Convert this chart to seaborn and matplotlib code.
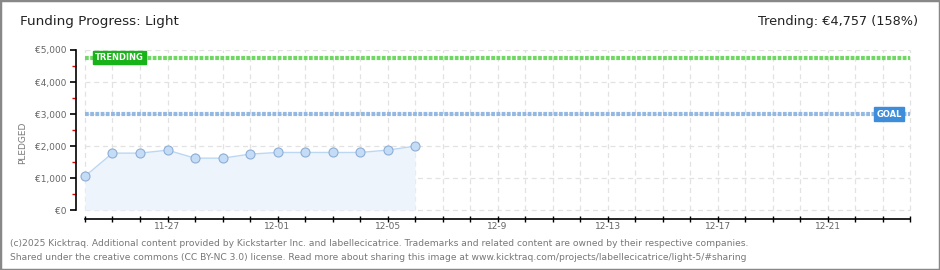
import matplotlib
matplotlib.use("Agg")
import matplotlib.pyplot as plt
import matplotlib.dates as mdates
from matplotlib.ticker import FixedLocator
import seaborn as sns
import pandas as pd

# ---- data ----
dates = ["2025-11-24", "2025-11-25", "2025-11-26", "2025-11-27", "2025-11-28",
         "2025-11-29", "2025-11-30", "2025-12-01", "2025-12-02", "2025-12-03",
         "2025-12-04", "2025-12-05", "2025-12-06"]
pledged = [1056, 1777, 1777, 1871, 1620, 1620, 1746, 1798, 1798, 1798, 1798, 1871, 1996]
goal = 3000
trending = 4757
axis_start = "2025-11-24"
axis_end = "2025-12-24"
tick_label_dates = ["2025-11-27", "2025-12-01", "2025-12-05", "2025-12-09",
                    "2025-12-13", "2025-12-17", "2025-12-21"]
tick_labels = ["11-27", "12-01", "12-05", "12-9", "12-13", "12-17", "12-21"]
y_ticks = [0, 1000, 2000, 3000, 4000, 5000]
y_minor = [500, 1500, 2500, 3500, 4500]
y_tick_labels = ["€0", "€1,000", "€2,000", "€3,000", "€4,000", "€5,000"]
title = "Funding Progress: Light"
trend_text = "Trending: €4,757 (158%)"
footer1 = "(c)2025 Kicktraq. Additional content provided by Kickstarter Inc. and labellecicatrice. Trademarks and related content are owned by their respective companies."
footer2 = "Shared under the creative commons (CC BY-NC 3.0) license. Read more about sharing this image at www.kicktraq.com/projects/labellecicatrice/light-5/#sharing"

df = pd.DataFrame({"date": pd.to_datetime(dates), "pledged": pledged})
start = pd.Timestamp(axis_start)
end = pd.Timestamp(axis_end)

sns.set_style("white")
plt.rcParams["font.family"] = ["DejaVu Sans"]

fig = plt.figure(figsize=(9.4, 2.7), dpi=100)
ax = fig.add_axes([76 / 940, (270 - 219) / 270, (912 - 76) / 940, (219 - 50) / 270])

day = pd.Timedelta(days=1)
ax.set_xlim(start - 0.327 * day, end + 0.07 * day)
ax.set_ylim(-281, 5000)

# grid lines over data range
all_days = pd.date_range(start, end, freq="D")
ax.vlines(all_days, 0, 5000, colors="#e2e2e2", linestyles=(0, (4, 3)), linewidth=0.9, zorder=0)
ax.hlines(y_ticks, start, end, colors="#e2e2e2", linestyles=(0, (4, 3)), linewidth=0.9, zorder=0)

# area + line
ax.fill_between(df["date"], 0, df["pledged"], color="#edf4fc", zorder=1, linewidth=0)
sns.lineplot(data=df, x="date", y="pledged", ax=ax, color="#bcd7f3", linewidth=1.0,
             marker="o", markersize=6.5, markerfacecolor="#c4dcf6",
             markeredgecolor="#8eaed6", markeredgewidth=0.8, zorder=3)

# goal and trending lines
ax.hlines(trending, start, end, colors="#6ed862", linewidth=3, linestyles=(0, (0.9, 0.35)), zorder=2)
ax.hlines(goal, start, end, colors="#93b8e3", linewidth=3, linestyles=(0, (0.9, 0.35)), zorder=2)

ax.text(start + 0.35 * day, trending, "TRENDING", color="white", fontsize=6, fontweight="bold",
        va="center", ha="left", zorder=5,
        bbox=dict(boxstyle="square,pad=0.25", fc="#18b318", ec="#18b318"))
ax.text(end - 0.3 * day, goal, "GOAL", color="white", fontsize=6, fontweight="bold",
        va="center", ha="right", zorder=5,
        bbox=dict(boxstyle="square,pad=0.25", fc="#3d8ddb", ec="#3d8ddb"))

# spines
for s in ["top", "right"]:
    ax.spines[s].set_visible(False)
ax.spines["left"].set_bounds(0, 5000)
ax.spines["bottom"].set_bounds(mdates.date2num(start), mdates.date2num(end))
for s in ["left", "bottom"]:
    ax.spines[s].set_color("black")
    ax.spines[s].set_linewidth(1.2)

# y ticks
ax.set_yticks(y_ticks)
ax.set_yticklabels(y_tick_labels)
ax.yaxis.set_minor_locator(FixedLocator(y_minor))
ax.tick_params(axis="y", which="major", direction="out", length=4, width=1.2, color="black",
               labelsize=6.5, labelcolor="#666666", pad=3, left=True)
ax.tick_params(axis="y", which="minor", direction="out", length=3, width=1, color="#e00000", left=True)

# x ticks
lab_map = {mdates.date2num(pd.Timestamp(d)): l for d, l in zip(tick_label_dates, tick_labels)}
ax.set_xticks(mdates.date2num(all_days))
ax.set_xticklabels([lab_map.get(mdates.date2num(d), "") for d in all_days])
ax.tick_params(axis="x", which="major", direction="inout", length=5, width=1.0, color="black",
               labelsize=6.5, labelcolor="#666666", pad=0, bottom=True)
ax.set_xlabel("")
ax.set_ylabel("PLEDGED", fontsize=6.5, color="#777777")
ax.yaxis.set_label_coords(-0.058, 0.45)

# texts
fig.text(20 / 940, 1 - 22 / 270, title, fontsize=9.7, color="#222222", va="center", ha="left")
fig.text(918 / 940, 1 - 22 / 270, trend_text, fontsize=9.3, color="#222222", va="center", ha="right")
fig.text(10 / 940, 1 - 243 / 270, footer1, fontsize=6.6, color="#777777", va="center", ha="left")
fig.text(10 / 940, 1 - 257 / 270, footer2, fontsize=6.6, color="#777777", va="center", ha="left")

# frame
fig.patches.append(plt.Rectangle((0, 0), 1, 1, transform=fig.transFigure, fill=False,
                                 ec="#888888", lw=2.5, zorder=10))

fig.savefig("out.png", dpi=100)
